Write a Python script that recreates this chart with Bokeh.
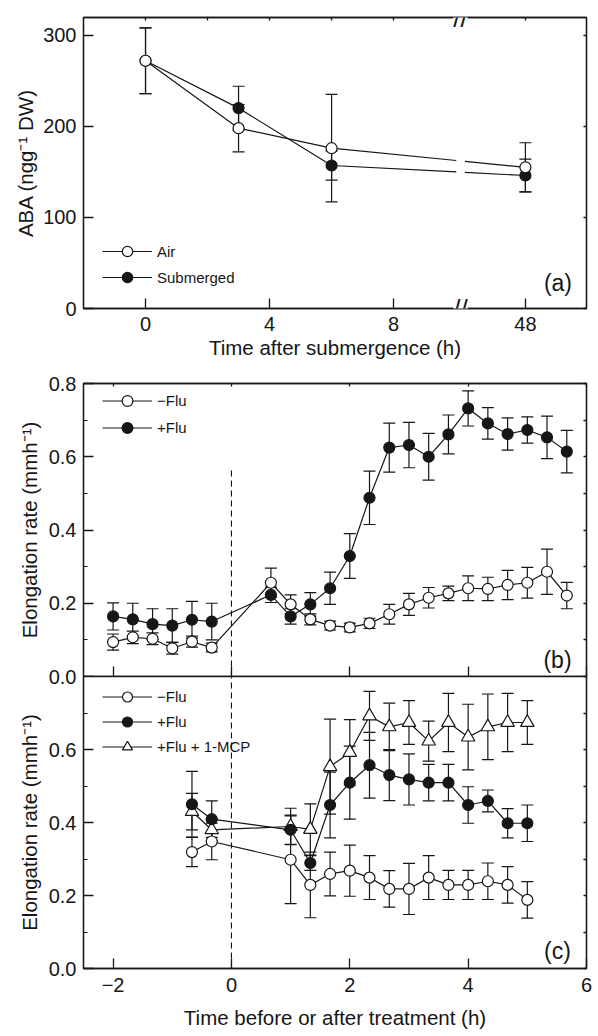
import numpy as np
from bokeh.plotting import figure
from bokeh.models import (Range1d, LinearAxis, FixedTicker, Legend, LegendItem, Label,
                          CustomLabelingPolicy)
from bokeh.layouts import column
from bokeh.embed import file_html
from bokeh.resources import INLINE

FONT = "Liberation Sans"
INK = "#161616"

# ---------------- data: panel (a) ----------------
a_time = [0, 3, 6, 48]
a_air = [272, 198, 176, 155]
a_air_err = [36, 26, 59, 27]
a_sub = [272, 220, 157, 146]
a_sub_err = [36, 24, 16, 18]
a_xtick_hours = [0, 4, 8, 48]
a_top_tick_hours = [0, 2, 4, 6, 8, 48]
a_yticks = [0, 100, 200, 300]

# ---------------- data: panel (b) ----------------
b_time = [-2.0, -1.667, -1.333, -1.0, -0.667, -0.333, 0.667, 1.0, 1.333, 1.667, 2.0,
          2.333, 2.667, 3.0, 3.333, 3.667, 4.0, 4.333, 4.667, 5.0, 5.333, 5.667]
b_minus = [0.094, 0.107, 0.103, 0.077, 0.095, 0.079, 0.256, 0.197, 0.156, 0.139, 0.134,
           0.145, 0.170, 0.197, 0.215, 0.227, 0.241, 0.239, 0.250, 0.256, 0.286, 0.221]
b_minus_err = [0.022, 0.017, 0.016, 0.016, 0.015, 0.012, 0.040, 0.026, 0.015, 0.012, 0.012,
               0.014, 0.027, 0.030, 0.028, 0.020, 0.034, 0.032, 0.040, 0.042, 0.062, 0.036]
b_plus = [0.164, 0.156, 0.143, 0.139, 0.155, 0.150, 0.223, 0.164, 0.197, 0.241, 0.329,
          0.488, 0.625, 0.632, 0.600, 0.661, 0.732, 0.691, 0.662, 0.673, 0.653, 0.614]
b_plus_err = [0.037, 0.044, 0.042, 0.046, 0.050, 0.050, 0.021, 0.021, 0.032, 0.044, 0.061,
              0.073, 0.067, 0.062, 0.064, 0.053, 0.048, 0.043, 0.044, 0.036, 0.058, 0.058]

# ---------------- data: panel (c) ----------------
c_time = [-0.667, -0.333, 1.0, 1.333, 1.667, 2.0, 2.333, 2.667, 3.0, 3.333, 3.667, 4.0, 4.333, 4.667, 5.0]
c_minus = [0.319, 0.348, 0.298, 0.229, 0.259, 0.268, 0.249, 0.218, 0.218, 0.249, 0.229, 0.229, 0.239, 0.229, 0.188]
c_minus_err = [0.04, 0.05, 0.12, 0.09, 0.06, 0.07, 0.06, 0.05, 0.07, 0.06, 0.04, 0.04, 0.05, 0.05, 0.05]
c_plus = [0.450, 0.409, 0.380, 0.289, 0.448, 0.509, 0.557, 0.530, 0.518, 0.509, 0.509, 0.448, 0.459, 0.398, 0.398]
c_plus_err = [0.09, 0.05, 0.04, 0.02, 0.09, 0.10, 0.09, 0.07, 0.07, 0.05, 0.05, 0.05, 0.03, 0.04, 0.05]
c_mcp = [0.430, 0.380, 0.389, 0.381, 0.553, 0.592, 0.692, 0.662, 0.674, 0.623, 0.674, 0.634, 0.662, 0.674, 0.674]
c_mcp_err = [0.05, 0.03, 0.05, 0.07, 0.13, 0.09, 0.067, 0.065, 0.06, 0.055, 0.08, 0.09, 0.09, 0.08, 0.06]

bc_xticks = [-2, 0, 2, 4, 6]
treatment_time = 0
b_marker_line_top = 0.57

# ---------------- broken axis for (a) ----------------
A_LINEAR_END = 8
A_POS_48 = 12.25
A_GAP = (10.02, 10.30)
A_BREAK_POS = 10.16

NO_LABELS = CustomLabelingPolicy(code="""
for (const i of Array.from(indices)) { indices.unset(i) }
return indices
""")


def a_pos(t):
    return t if t <= A_LINEAR_END else A_POS_48 + (t - 48)


def style_axis(ax, tick_in=10, minor_in=0, label_size="20px"):
    ax.major_tick_in = tick_in
    ax.major_tick_out = 0
    ax.minor_tick_in = minor_in
    ax.minor_tick_out = 0
    ax.axis_line_color = INK
    ax.axis_line_width = 1.3
    ax.major_tick_line_color = INK
    ax.major_tick_line_width = 1.3
    ax.minor_tick_line_color = INK
    ax.minor_tick_line_width = 1.1
    ax.major_label_text_font = FONT
    ax.major_label_text_font_size = label_size
    ax.major_label_text_color = INK
    ax.axis_label_text_font = FONT
    ax.axis_label_text_font_size = "20.5px"
    ax.axis_label_text_font_style = "normal"
    ax.axis_label_text_color = INK


def hide_labels(ax):
    ax.major_label_policy = NO_LABELS
    ax.major_label_text_font_size = "0px"
    ax.major_label_standoff = 0


def add_plain_axis(p, side, ticks, tick_in=3):
    ax = LinearAxis(ticker=FixedTicker(ticks=ticks))
    style_axis(ax, tick_in=tick_in)
    hide_labels(ax)
    p.add_layout(ax, side)
    return ax


def make_fig(xr, yr, top, frame_h, bottom):
    p = figure(frame_width=503, frame_height=frame_h, min_border_left=83, min_border_right=8,
               min_border_top=top, min_border_bottom=bottom, x_range=xr, y_range=yr,
               output_backend="svg", toolbar_location=None)
    p.grid.visible = False
    p.outline_line_color = INK
    p.outline_line_width = 1.3
    p.outline_line_alpha = 1
    p.background_fill_color = "white"
    p.border_fill_color = "white"
    return p


def errbars(p, x, y, e):
    lo = [v - d for v, d in zip(y, e)]
    hi = [v + d for v, d in zip(y, e)]
    p.segment(x0=x, y0=lo, x1=x, y1=hi, line_color=INK, line_width=1.2)
    p.scatter(x=list(x) + list(x), y=lo + hi, marker="dash", size=12, line_color=INK, line_width=1.2)


def markers(p, x, y, kind, filled):
    size = 13.5 if kind == "triangle" else 11
    return p.scatter(x=x, y=y, marker=kind, size=size, line_color=INK, line_width=1.2,
                     fill_color=INK if filled else "white")


def legend(p, items, loc, gh):
    lg = Legend(items=items, location=loc, orientation="vertical", glyph_width=50, glyph_height=gh,
                label_height=gh, spacing=0, padding=0, margin=0, label_standoff=5,
                border_line_alpha=0, background_fill_alpha=0, label_text_font=FONT,
                label_text_font_size="15px", label_text_color=INK)
    p.add_layout(lg)


def panel_label(p, x, y, text):
    p.add_layout(Label(x=x, y=y, text=text, text_font=FONT, text_font_size="23px", text_color=INK,
                       text_align="center", text_baseline="middle"))


# ================= panel (a) =================
pa = make_fig(Range1d(-2, 14.22), Range1d(0, 319.5), 17, 291, 50)
ax = pa.xaxis[0]
ax.ticker = FixedTicker(ticks=[a_pos(t) for t in a_xtick_hours])
ax.major_label_overrides = {a_pos(t): str(t) for t in a_xtick_hours}
style_axis(ax)
ax.major_label_standoff = 8
ax.axis_label = "Time after submergence (h)"
ax.axis_label_standoff = 2
ay = pa.yaxis[0]
ay.ticker = FixedTicker(ticks=a_yticks)
style_axis(ay)
ay.major_label_standoff = 7
ay.axis_label = "ABA (ngg\u207b\u00b9 DW)"
ay.axis_label_standoff = 3
add_plain_axis(pa, "right", a_yticks)
add_plain_axis(pa, "above", [a_pos(t) for t in a_top_tick_hours])


def broken_line(p, ts, ys):
    xs = [a_pos(t) for t in ts]
    g0 = float(np.interp(A_GAP[0], xs, ys))
    g1 = float(np.interp(A_GAP[1], xs, ys))
    x1 = [x for x in xs if x < A_GAP[0]] + [A_GAP[0]]
    y1 = [y for x, y in zip(xs, ys) if x < A_GAP[0]] + [g0]
    x2 = [A_GAP[1]] + [x for x in xs if x > A_GAP[1]]
    y2 = [g1] + [y for x, y in zip(xs, ys) if x > A_GAP[1]]
    return p.multi_line(xs=[x1, x2], ys=[y1, y2], line_color=INK, line_width=1.2)


a_x = [a_pos(t) for t in a_time]
l_sub = broken_line(pa, a_time, a_sub)
l_air = broken_line(pa, a_time, a_air)
errbars(pa, a_x, a_sub, a_sub_err)
errbars(pa, a_x, a_air, a_air_err)
m_sub = markers(pa, a_x, a_sub, "circle", True)
m_air = markers(pa, a_x, a_air, "circle", False)
legend(pa, [LegendItem(label="Air", renderers=[l_air, m_air]),
            LegendItem(label="Submerged", renderers=[l_sub, m_sub])], (19, 18), 26)
panel_label(pa, 13.3, 28, "(a)")
for yb in (0, 319.5):
    pa.add_layout(Label(x=A_BREAK_POS, y=yb, text="//", text_font=FONT, text_font_size="26px",
                        text_color=INK, text_align="center", text_baseline="middle",
                        background_fill_color="white", background_fill_alpha=1))

# ================= panel (b) =================
pb = make_fig(Range1d(-2.5, 6), Range1d(0, 0.8), 22, 293, 14)
bx = pb.xaxis[0]
bx.ticker = FixedTicker(ticks=bc_xticks)
style_axis(bx)
hide_labels(bx)
by = pb.yaxis[0]
by.ticker = FixedTicker(ticks=[0, 0.2, 0.4, 0.6, 0.8], minor_ticks=[0.1, 0.3, 0.5, 0.7])
style_axis(by, minor_in=4)
by.major_label_overrides = {0: "0.0", 0.2: "0.2", 0.4: "0.4", 0.6: "0.6", 0.8: "0.8"}
by.major_label_standoff = 7
by.axis_label = "Elongation rate (mmh\u207b\u00b9)"
by.axis_label_standoff = 5
add_plain_axis(pb, "right", [0.1 * i for i in range(9)])
add_plain_axis(pb, "above", bc_xticks)
pb.border_fill_alpha = 0

pb.segment(x0=[treatment_time], y0=[0], x1=[treatment_time], y1=[b_marker_line_top],
           line_color=INK, line_width=1.1, line_dash="6 4")
lb_m = pb.line(b_time, b_minus, line_color=INK, line_width=1.2)
lb_p = pb.line(b_time, b_plus, line_color=INK, line_width=1.2)
errbars(pb, b_time, b_minus, b_minus_err)
errbars(pb, b_time, b_plus, b_plus_err)
mb_p = markers(pb, b_time, b_plus, "circle", True)
mb_m = markers(pb, b_time, b_minus, "circle", False)
legend(pb, [LegendItem(label="\u2212Flu", renderers=[lb_m, mb_m]),
            LegendItem(label="+Flu", renderers=[lb_p, mb_p])], (19, 235), 27)
panel_label(pb, 5.51, 0.044, "(b)")

# ================= panel (c) =================
pc = make_fig(Range1d(-2.5, 6), Range1d(0, 0.8), 0, 292, 60)
pc.margin = (-14, 0, 0, 0)
pc.border_fill_alpha = 0
cx = pc.xaxis[0]
cx.ticker = FixedTicker(ticks=bc_xticks)
style_axis(cx)
cx.major_label_overrides = {-2: "\u22122"}
cx.major_label_standoff = 9
cx.axis_label = "Time before or after treatment (h)"
cx.axis_label_standoff = 11
cy = pc.yaxis[0]
cy.ticker = FixedTicker(ticks=[0, 0.2, 0.4, 0.6], minor_ticks=[0.1, 0.3, 0.5, 0.7])
style_axis(cy, minor_in=4)
cy.major_label_overrides = {0: "0.0", 0.2: "0.2", 0.4: "0.4", 0.6: "0.6"}
cy.major_label_standoff = 7
cy.axis_label = "Elongation rate (mmh\u207b\u00b9)"
cy.axis_label_standoff = 5
add_plain_axis(pc, "right", [0.1 * i for i in range(9)])

pc.segment(x0=[treatment_time], y0=[0], x1=[treatment_time], y1=[0.8],
           line_color=INK, line_width=1.1, line_dash="6 4")
lc_t = pc.line(c_time, c_mcp, line_color=INK, line_width=1.2)
lc_p = pc.line(c_time, c_plus, line_color=INK, line_width=1.2)
lc_m = pc.line(c_time, c_minus, line_color=INK, line_width=1.2)
errbars(pc, c_time, c_mcp, c_mcp_err)
errbars(pc, c_time, c_plus, c_plus_err)
errbars(pc, c_time, c_minus, c_minus_err)
mc_t = markers(pc, c_time, c_mcp, "triangle", False)
mc_p = markers(pc, c_time, c_plus, "circle", True)
mc_m = markers(pc, c_time, c_minus, "circle", False)
legend(pc, [LegendItem(label="\u2212Flu", renderers=[lc_m, mc_m]),
            LegendItem(label="+Flu", renderers=[lc_p, mc_p]),
            LegendItem(label="+Flu + 1-MCP", renderers=[lc_t, mc_t])], (19, 209), 25)
panel_label(pc, 5.51, 0.049, "(c)")

layout = column(pa, pb, pc, spacing=0)
open("out.html", "w").write(file_html(layout, INLINE))
